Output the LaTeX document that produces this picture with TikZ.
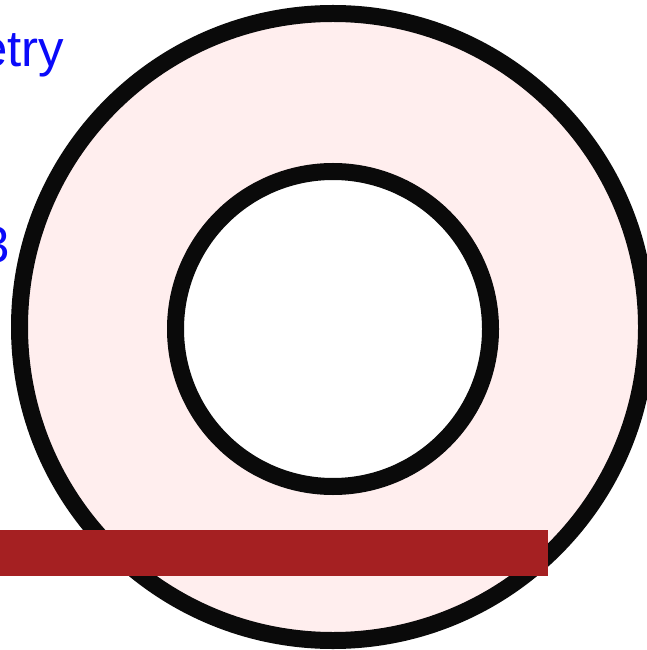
\documentclass[tikz,border=0pt]{standalone}
\usepackage{fontspec}
\setmainfont{Liberation Sans}
\usetikzlibrary{positioning}
\definecolor{ringpink}{RGB}{255,238,238}
\definecolor{barred}{RGB}{165,32,34}
\definecolor{labelblue}{RGB}{10,10,250}

\begin{document}
\begin{tikzpicture}[
  % Shape Styles
  ringline/.style={draw=black!96, line width=0.17cm},
  barbox/.style={fill=barred, draw=none},
  % Text Styles
  bluelabel/.style={text=labelblue, inner sep=0pt, anchor=base east, font=\fontsize{14.5}{17}\selectfont},
]
\useasboundingbox (0,0) rectangle (6.46,-6.5);

% Washer with cut bar

\fill[white] (0,0) rectangle (6.46,-6.5);
\draw[ringline, fill=ringpink] (3.33,-3.27) circle[radius=3.135cm];
\draw[ringline, fill=white] (3.33,-3.29) circle[radius=1.575cm];
\fill[barbox] (0,-5.30) rectangle (5.48,-5.76);

\node[bluelabel] (L_top) at (0.65,-0.67) {etry};
\node[bluelabel] (L_mid) at (0.11,-2.63) {3};

\end{tikzpicture}
\end{document}
